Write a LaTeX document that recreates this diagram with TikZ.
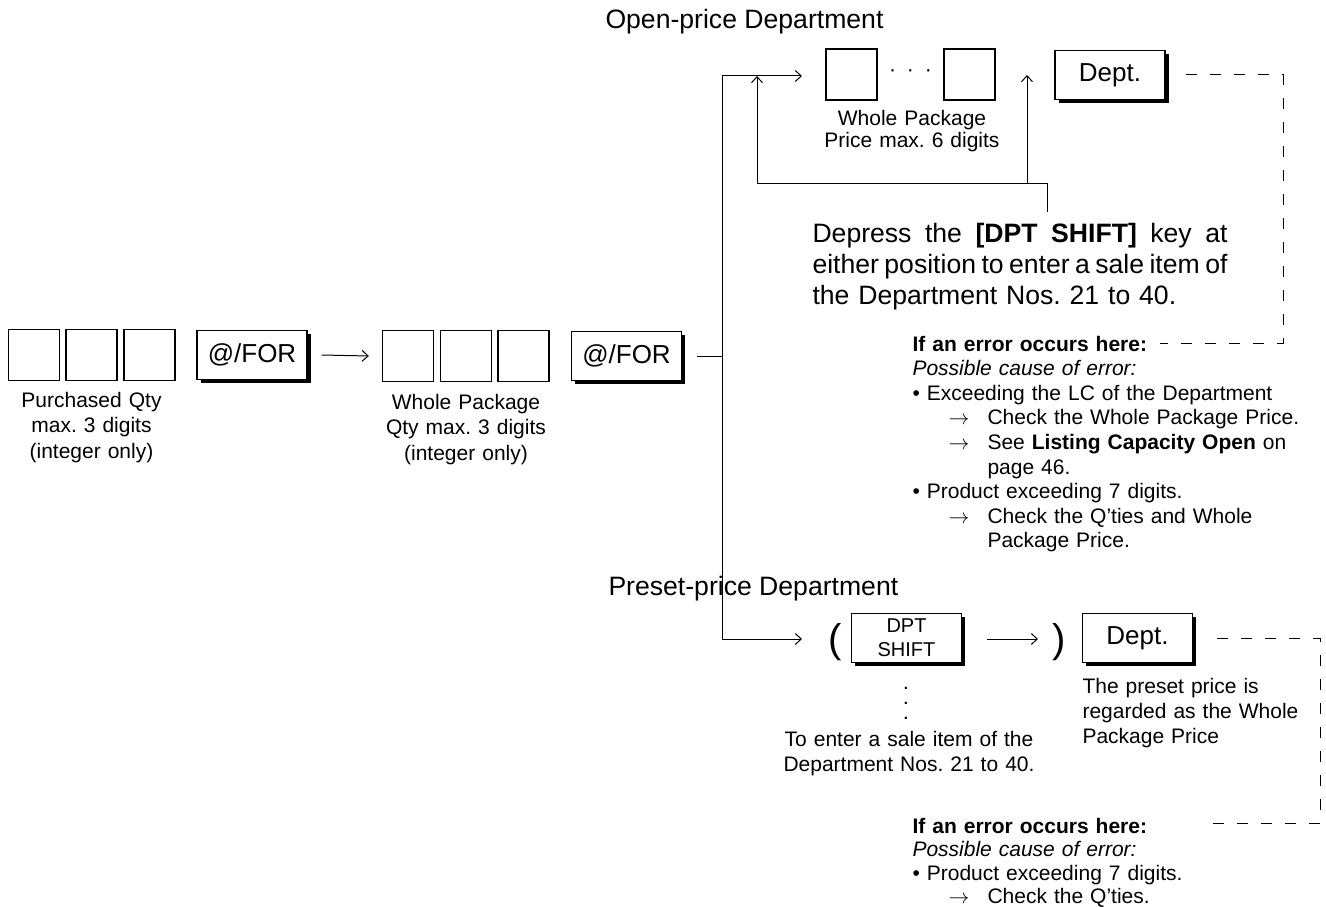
\documentclass[tikz,border=0pt]{standalone}
\usepackage{fontspec}
\setmainfont{Liberation Sans}
\usetikzlibrary{arrows.meta,shadows}
\frenchspacing
\newcommand{\erarrow}{\hspace*{36pt}\makebox[39pt][l]{$\rightarrow$}}
\newcommand{\jline}[1]{\leavevmode\hbox to 415pt{\spaceskip=0.278em plus 1em minus 0.2em\relax #1}}
\begin{document}
\begin{tikzpicture}[x=1pt,y=-1pt,line width=1pt,
  digit/.style={draw,line width=1.4pt,minimum width=51pt,minimum height=51pt,inner sep=0pt},
  keybox/.style={draw,line width=1.3pt,fill=white,minimum width=110pt,minimum height=49pt,inner sep=0pt,
    font=\fontsize{26}{30}\selectfont,
    drop shadow={fill=black,opacity=1,shadow xshift=3.5pt,shadow yshift=-3.5pt}},
  small/.style={inner sep=0pt,font=\fontsize{21}{25.5}\selectfont},
  big/.style={inner sep=0pt,font=\fontsize{26.6}{31}\selectfont},
  arr/.style={-{Straight Barb[length=6pt,width=11pt]}},
  errdash/.style={dash pattern=on 11pt off 13pt}]
\useasboundingbox (0,0) rectangle (1326,907);
% headers
\node[big,anchor=base west] (ophead) at (605,29) {Open-price Department};
\node[big,anchor=base west] (pphead) at (608,595) {Preset-price Department};
% row 1
\node[digit] (b1) at (34,355) {};
\node[digit] (b2) at (91.5,355) {};
\node[digit] (b3) at (149.5,355) {};
\node[keybox] (k1) at (252,355) {@/FOR};
\node[digit] (c1) at (408,356) {};
\node[digit] (c2) at (466,356) {};
\node[digit] (c3) at (523.5,356) {};
\node[keybox] (k2) at (626.5,356) {@/FOR};
\node[small,text width=180pt,align=center,anchor=base] (t1) at (91.5,407) {Purchased Qty\\max. 3 digits\\(integer only)};
\node[small,text width=200pt,align=center,anchor=base] (t2) at (466,409) {Whole Package\\Qty max. 3 digits\\(integer only)};
% open price
\node[digit] (o1) at (851.5,74.5) {};
\node[digit] (o2) at (969.5,74.5) {};
\node[small,anchor=base] (dots) at (910.5,77) {·\hspace{11pt}·\hspace{11pt}·};
\node[keybox] (d1) at (1110,75) {Dept.};
\node[inner sep=0pt,text width=200pt,align=center,anchor=base,font=\fontsize{21}{22}\selectfont] (t3) at (912,125) {Whole Package\\Price max. 6 digits};
\node[big,text width=415pt,align=left,anchor=base west] (para) at (812,242)
 {\jline{Depress the \textbf{[DPT SHIFT]} key at}\\
  \jline{either position to enter a sale item of}\\
  the Department Nos. 21 to 40.};
\node[inner sep=0pt,text width=410pt,align=left,anchor=base west,font=\fontsize{21}{24.6}\selectfont] (err1) at (912,351)
 {\textbf{If an error occurs here:}\\
  \textit{Possible cause of error:}\\
  • Exceeding the LC of the Department\\
  \erarrow Check the Whole Package Price.\\
  \erarrow See \textbf{Listing Capacity Open} on\\
  \hspace*{75pt}page 46.\\
  • Product exceeding 7 digits.\\
  \erarrow Check the Q’ties and Whole\\
  \hspace*{75pt}Package Price.};
% preset price
\node[inner sep=0pt,font=\fontsize{40}{46}\selectfont] (lp) at (835,642) {(};
\node[keybox,font=\fontsize{20}{24}\selectfont,align=center] (s1) at (906.5,638) {DPT\\SHIFT};
\node[inner sep=0pt,font=\fontsize{40}{46}\selectfont] (rp) at (1059,642) {)};
\node[keybox] (d2) at (1137.5,638) {Dept.};
\node[inner sep=0pt,text width=20pt,align=center,anchor=base,font=\fontsize{15}{15}\bfseries] (vd) at (906,689) {.\\.\\.};
\node[small,text width=280pt,align=center,anchor=base] (t4) at (909,746) {To enter a sale item of the\\Department Nos. 21 to 40.};
\node[inner sep=0pt,text width=230pt,align=left,anchor=base west,font=\fontsize{21}{25}\selectfont] (t5) at (1082,693) {The preset price is\\regarded as the Whole\\Package Price};
\node[inner sep=0pt,text width=400pt,align=left,anchor=base west,font=\fontsize{21}{23.5}\selectfont] (err2) at (912,833)
 {\textbf{If an error occurs here:}\\
  \textit{Possible cause of error:}\\
  • Product exceeding 7 digits.\\
  \erarrow Check the Q’ties.};
% coordinates
\coordinate (j) at (722,356);
\coordinate (jt) at (722,76);
\coordinate (jb) at (722,639);
\coordinate (ot) at (802,76);
\coordinate (pb) at (802,639);
\coordinate (fa) at (1047,212);
\coordinate (fb) at (1047,183);
\coordinate (fc) at (757,183);
\coordinate (fd) at (757,76);
\coordinate (fe) at (1027,183);
\coordinate (ff) at (1027,75);
\coordinate (sa) at (987,639);
\coordinate (sb) at (1038,639);
\coordinate (e2) at (1283,343);
\coordinate (e3) at (1160,343);
\coordinate (e5) at (1320,823);
\coordinate (e6) at (1200,823);
% connectors
\draw[arr] ([xshift=14pt]k1.east) -- ([xshift=-13pt]c1.west);
\draw ([xshift=15pt]k2.east) -- (j);
\draw (jt) -- (jb);
\draw[arr] (jt) -- (ot);
\draw[arr] (jb) -- (pb);
\draw[arr] (fa) -- (fb) -- (fc) -- (fd);
\draw[arr] (fe) -- (ff);
\draw[arr] (sa) -- (sb);
\draw[errdash] ([xshift=20pt]d1.east) -| (e2) -- (e3);
\draw[errdash] ([xshift=24pt]d2.east) -| (e5) -- (e6);
\end{tikzpicture}
\end{document}
